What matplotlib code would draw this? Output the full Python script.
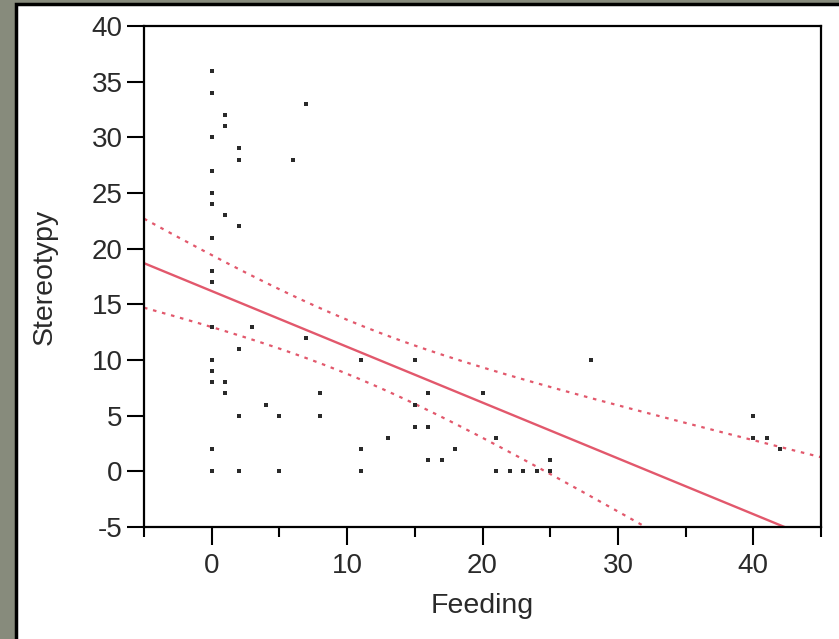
import numpy as np
import matplotlib
matplotlib.use("Agg")
import matplotlib.pyplot as plt
from matplotlib.patches import Rectangle

plt.rcParams['font.family'] = ['Liberation Sans', 'DejaVu Sans']
plt.rcParams['axes.unicode_minus'] = False

# data
feeding = [0]*15 + [1]*5 + [2]*6 + [3, 4, 5, 5, 6, 7, 7, 8, 8,
           11, 11, 11, 13, 15, 15, 15, 16, 16, 16, 17, 18, 20, 21, 21,
           22, 23, 24, 25, 25, 28, 40, 40, 41, 42]
stereo = [36, 34, 30, 27, 25, 24, 21, 18, 17, 13, 10, 9, 8, 2, 0,
          32, 31, 23, 8, 7,
          29, 28, 22, 11, 5, 0,
          13, 6, 5, 0, 28, 33, 12, 7, 5,
          10, 2, 0, 3, 10, 6, 4, 7, 4, 1, 1, 2, 7, 3, 0,
          0, 0, 0, 1, 0, 10, 5, 3, 3, 2]

xticks = [0, 10, 20, 30, 40]
yticks = [-5, 0, 5, 10, 15, 20, 25, 30, 35, 40]

x = np.array(feeding, float)
y = np.array(stereo, float)

# linear fit + 95% confidence band for the mean
b, a = np.polyfit(x, y, 1)
n = len(x)
res = y - (a + b*x)
s = np.sqrt(np.sum(res**2)/(n-2))
sxx = np.sum((x - x.mean())**2)
t = 2.0017
xs = np.linspace(-5, 45, 300)
yfit = a + b*xs
half = t*s*np.sqrt(1.0/n + (xs - x.mean())**2/sxx)

fig = plt.figure(figsize=(8.39, 6.39), dpi=100)
fig.patch.set_facecolor('#878b7c')
fig.patches.append(Rectangle((15.5/839, -0.01), 1.0, 1 - 3.5/639 + 0.01,
                             transform=fig.transFigure, facecolor='white',
                             edgecolor='black', linewidth=2.5, zorder=-10))

ax = fig.add_axes([144/839, 1 - 527/639, (821-144)/839, (527-26)/639])
red = '#e2586c'
ax.plot(xs, yfit, '-', color=red, lw=1.7)
ax.plot(xs, yfit + half, color=red, lw=1.6, ls=(0, (1.6, 2.6)))
ax.plot(xs, yfit - half, color=red, lw=1.6, ls=(0, (1.6, 2.6)))
ax.plot(x, y, 's', color='#2a2a2a', ms=3.3, mew=0)

ax.set_xlim(-5, 45)
ax.set_ylim(-5, 40)
ax.set_xticks(xticks)
ax.set_xticks(np.arange(-5, 46, 5), minor=True)
ax.set_yticks(yticks)
ax.tick_params(axis='x', direction='out', length=13, width=1.5, labelsize=20,
               pad=6, colors='black', labelcolor='#2a2a2a')
ax.tick_params(axis='x', which='minor', direction='out', length=7, width=1.5)
ax.tick_params(axis='y', direction='out', length=12.5, width=1.5, labelsize=20,
               pad=3, colors='black', labelcolor='#2a2a2a')
for sp in ax.spines.values():
    sp.set_linewidth(1.6)
ax.set_xlabel('Feeding', fontsize=20.5, labelpad=10, color='#2a2a2a')
ax.set_ylabel('Stereotypy', fontsize=20.5, labelpad=24, color='#2a2a2a')

fig.savefig('out.png', dpi=100, facecolor=fig.get_facecolor())
